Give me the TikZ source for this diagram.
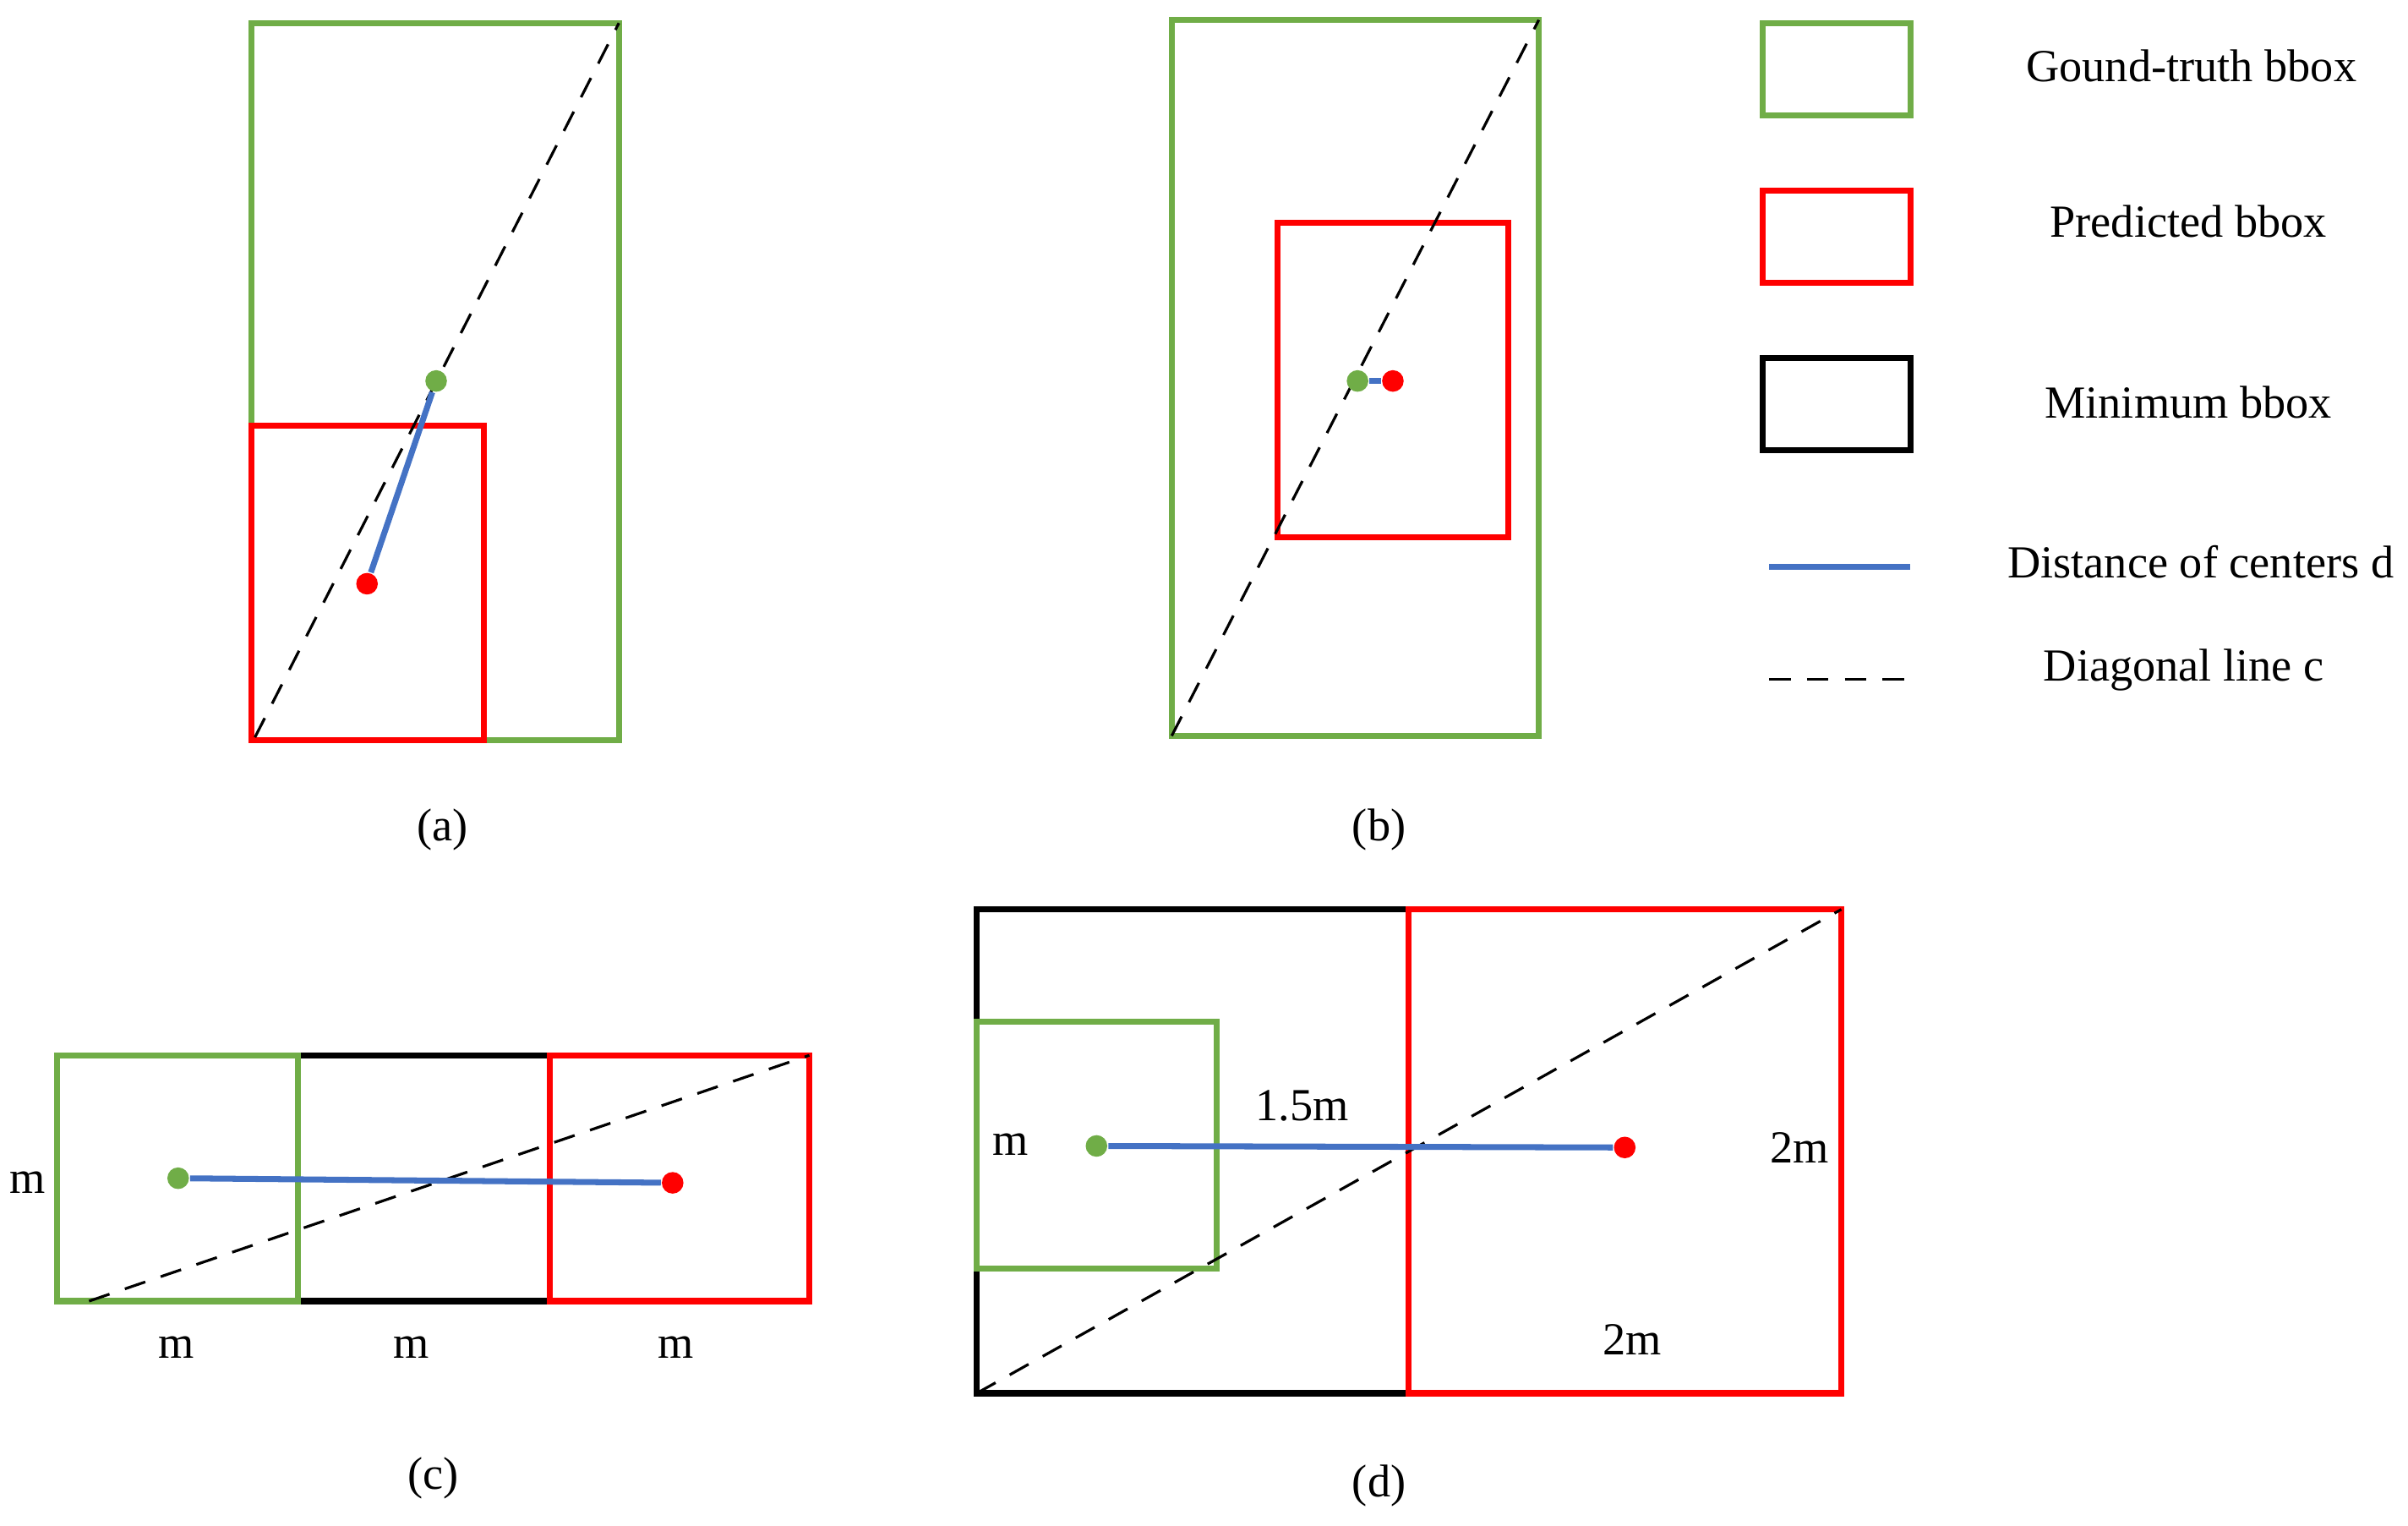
\documentclass[tikz,border=0pt]{standalone}
\usepackage{fontspec}
\setmainfont{Liberation Serif}
\definecolor{gg}{RGB}{112,173,71}
\definecolor{rr}{RGB}{255,0,0}
\definecolor{bb}{RGB}{68,114,196}
\begin{document}
\begin{tikzpicture}[x=0.01cm,y=-0.01cm,
 gbox/.style={draw=gg,line width=1.1pt},
 rbox/.style={draw=rr,line width=1.1pt},
 kbox/.style={draw=black,line width=1.1pt},
 diag/.style={draw=black,dashed,line width=0.5pt,dash pattern=on 4pt off 3pt},
 dist/.style={draw=bb,line width=1.1pt},
 gdot/.style={circle,fill=gg,inner sep=0pt,minimum size=4pt},
 rdot/.style={circle,fill=rr,inner sep=0pt,minimum size=4pt},
 lab/.style={font=\fontsize{8.5}{10}\selectfont}]
\useasboundingbox (0,0) rectangle (1568,993);
% (a)
\draw[gbox] (164,15) rectangle (403,482);
\draw[rbox] (164,277) rectangle (315,482);
\coordinate (a1) at (166,480); \coordinate (a2) at (403,15);
\draw[diag] (a1) -- (a2);
\node[gdot] (ga) at (284,248) {};
\node[rdot] (ra) at (239,380) {};
\draw[dist] (ga) -- (ra);
\node[lab] (la) at (288,540) {(a)};
% (b)
\draw[gbox] (763,13) rectangle (1002,479);
\draw[rbox] (832,145) rectangle (982,350);
\coordinate (b1) at (763,479); \coordinate (b2) at (1002,13);
\draw[diag] (b1) -- (b2);
\node[gdot] (gb) at (884,248) {};
\node[rdot] (rb) at (907,248) {};
\draw[dist] (gb) -- (rb);
\node[lab] (lb) at (898,540) {(b)};
% legend
\draw[gbox] (1148,15) rectangle (1244,75);
\node[lab] (t1) at (1427,43) {Gound-truth bbox};
\draw[rbox] (1148,124) rectangle (1244,184);
\node[lab] (t2) at (1425,144) {Predicted bbox};
\draw[kbox] (1148,233) rectangle (1244,293);
\node[lab] (t3) at (1425,262) {Minimum bbox};
\coordinate (l1) at (1152,369); \coordinate (l2) at (1244,369);
\draw[dist] (l1) -- (l2);
\node[lab] (t4) at (1433,366) {Distance of centers d};
\coordinate (l3) at (1152,442); \coordinate (l4) at (1244,442);
\draw[diag] (l3) -- (l4);
\node[lab] (t5) at (1422,436) {Diagonal line c};
% (c)
\draw[kbox] (194,687) -- (358,687) (194,847) -- (358,847);
\draw[gbox] (37,687) rectangle (194,847);
\draw[rbox] (358,687) rectangle (527,847);
\coordinate (c1) at (58,847); \coordinate (c2) at (527,687);
\draw[diag] (c1) -- (c2);
\node[gdot] (gc) at (116,767) {};
\node[rdot] (rc) at (438,770) {};
\draw[dist] (gc) -- (rc);
\node[lab] at (18,770) {m};
\node[lab] at (115,877) {m};
\node[lab] at (268,877) {m};
\node[lab] at (440,877) {m};
\node[lab] (lc) at (282,962) {(c)};
% (d)
\draw[kbox] (636,592) rectangle (1199,907);
\draw[rbox] (917,592) rectangle (1199,907);
\draw[gbox] (636,665) rectangle (792,826);
\coordinate (d1) at (636,907); \coordinate (d2) at (1199,592);
\draw[diag] (d1) -- (d2);
\node[gdot] (gd) at (714,746) {};
\node[rdot] (rd) at (1058,747) {};
\draw[dist] (gd) -- (rd);
\node[lab] at (658,745) {m};
\node[lab] at (848,720) {1.5m};
\node[lab] at (1172,747) {2m};
\node[lab] at (1063,872) {2m};
\node[lab] (ld) at (898,967) {(d)};
\end{tikzpicture}
\end{document}
